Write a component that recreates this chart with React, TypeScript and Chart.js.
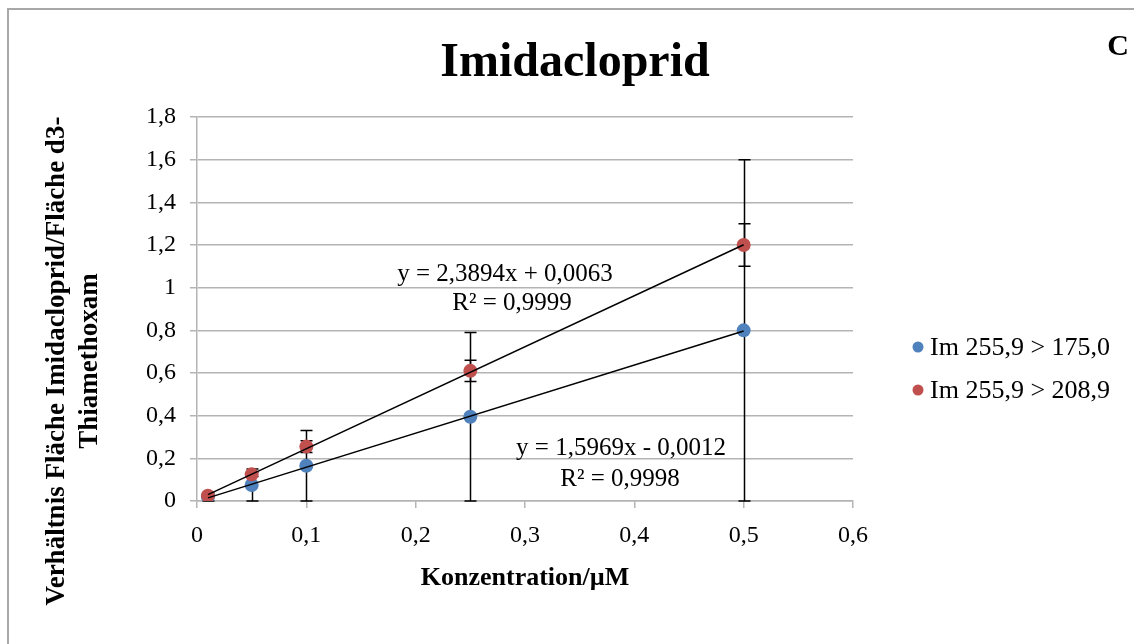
import React, { useEffect, useRef } from 'react';
import { Chart, registerables } from 'chart.js';

Chart.register(...registerables);

const xValues = [0.01, 0.05, 0.1, 0.25, 0.5];
const seriesNames = ['Im 255,9 > 175,0', 'Im 255,9 > 208,9'];
const seriesColors = ['#4F81BD', '#C0504D'];
const blueValues = [0.02, 0.075, 0.165, 0.395, 0.8];
const redValues = [0.025, 0.125, 0.255, 0.61, 1.2];
const blueErrors = [0.02, 0.075, 0.165, 0.395, 0.8];
const redErrors = [0.005, 0.01, 0.028, 0.05, 0.1];
const trendSlopes = [1.5969, 2.3894];
const trendIntercepts = [-0.0012, 0.0063];
const equationTexts = ['y = 1,5969x - 0,0012', 'y = 2,3894x + 0,0063'];
const r2Texts = ['R² = 0,9998', 'R² = 0,9999'];
const chartTitle = 'Imidacloprid';
const cornerLabel = 'C';
const xAxisTitle = 'Konzentration/µM';
const yAxisTitleLines = ['Verhältnis Fläche Imidacloprid/Fläche d3-', 'Thiamethoxam'];

const SERIF = '"Liberation Serif", "Times New Roman", serif';
const GRID = '#B4B4B4';

const fmt = (v: number) => String(Number(v.toFixed(2))).replace('.', ',');

const seriesValues = [blueValues, redValues];
const seriesErrors = [blueErrors, redErrors];

const customPlugin = {
  id: 'customDraw',
  beforeDraw(chart: any) {
    const ctx = chart.ctx;
    ctx.save();
    ctx.fillStyle = '#ffffff';
    ctx.fillRect(0, 0, chart.width, chart.height);
    ctx.restore();
  },
  beforeDatasetsDraw(chart: any) {
    const ctx = chart.ctx;
    const xs = chart.scales.x;
    const ys = chart.scales.y;
    ctx.save();
    ctx.strokeStyle = '#000000';
    ctx.lineWidth = 1.5;
    for (let s = 0; s < seriesValues.length; s++) {
      const vals = seriesValues[s];
      const errs = seriesErrors[s];
      for (let j = 0; j < xValues.length; j++) {
        const px = Math.round(xs.getPixelForValue(xValues[j])) + 0.5;
        const top = ys.getPixelForValue(vals[j] + errs[j]);
        const bot = ys.getPixelForValue(Math.max(0, vals[j] - errs[j]));
        ctx.beginPath();
        ctx.moveTo(px, top);
        ctx.lineTo(px, bot);
        ctx.moveTo(px - 6, top);
        ctx.lineTo(px + 6, top);
        ctx.moveTo(px - 6, bot);
        ctx.lineTo(px + 6, bot);
        ctx.stroke();
      }
    }
    ctx.restore();
  },
  afterDraw(chart: any) {
    const ctx = chart.ctx;
    ctx.save();
    // frame
    ctx.strokeStyle = '#A8A8A8';
    ctx.lineWidth = 2;
    ctx.strokeRect(8, 9, 1200, 700);

    ctx.fillStyle = '#000000';
    // title
    ctx.font = `bold 48px ${SERIF}`;
    ctx.textAlign = 'center';
    ctx.textBaseline = 'alphabetic';
    ctx.fillText(chartTitle, 575, 76);
    // corner label
    ctx.font = `bold 30px ${SERIF}`;
    ctx.fillText(cornerLabel, 1118, 55);

    // x axis title
    ctx.font = `bold 26px ${SERIF}`;
    ctx.fillText(xAxisTitle, 525, 585);

    // y axis title
    ctx.save();
    ctx.translate(0, 361);
    ctx.rotate(-Math.PI / 2);
    ctx.textBaseline = 'middle';
    ctx.font = `bold 27px ${SERIF}`;
    ctx.fillText(yAxisTitleLines[0], 0, 57);
    ctx.fillText(yAxisTitleLines[1], 0, 90);
    ctx.restore();

    // equations
    ctx.font = `25px ${SERIF}`;
    ctx.textBaseline = 'alphabetic';
    ctx.fillText(equationTexts[1], 505, 281);
    ctx.fillText(r2Texts[1], 512, 310);
    ctx.fillText(equationTexts[0], 621, 455);
    ctx.fillText(r2Texts[0], 620, 486);

    // legend
    ctx.font = `26px ${SERIF}`;
    ctx.textAlign = 'left';
    ctx.textBaseline = 'middle';
    const legendY = [347, 390];
    for (let i = 0; i < seriesNames.length; i++) {
      ctx.fillStyle = seriesColors[i];
      ctx.beginPath();
      ctx.arc(918, legendY[i], 5.5, 0, Math.PI * 2);
      ctx.fill();
      ctx.fillStyle = '#000000';
      ctx.fillText(seriesNames[i], 930, legendY[i] + 1);
    }
    ctx.restore();
  },
};

export default function App() {
  const canvasRef = useRef<HTMLCanvasElement | null>(null);

  useEffect(() => {
    const canvas = canvasRef.current;
    if (!canvas) return;
    const xMin = Math.min(...xValues);
    const xMax = Math.max(...xValues);
    const trendData = (i: number) => [
      { x: xMin, y: trendSlopes[i] * xMin + trendIntercepts[i] },
      { x: xMax, y: trendSlopes[i] * xMax + trendIntercepts[i] },
    ];
    const chart = new Chart(canvas, {
      type: 'scatter',
      data: {
        datasets: [
          {
            label: 'trend1',
            type: 'line',
            data: trendData(0),
            borderColor: '#000000',
            borderWidth: 1.5,
            pointRadius: 0,
            showLine: true,
            order: 0,
          } as any,
          {
            label: 'trend2',
            type: 'line',
            data: trendData(1),
            borderColor: '#000000',
            borderWidth: 1.5,
            pointRadius: 0,
            showLine: true,
            order: 0,
          } as any,
          {
            label: seriesNames[0],
            data: xValues.map((x, j) => ({ x, y: blueValues[j] })),
            backgroundColor: seriesColors[0],
            borderColor: seriesColors[0],
            borderWidth: 0,
            pointRadius: 7,
            order: 2,
          },
          {
            label: seriesNames[1],
            data: xValues.map((x, j) => ({ x, y: redValues[j] })),
            backgroundColor: seriesColors[1],
            borderColor: seriesColors[1],
            borderWidth: 0,
            pointRadius: 7,
            order: 1,
          },
        ],
      },
      options: {
        animation: false,
        responsive: false,
        devicePixelRatio: 1,
        layout: { padding: { left: 0, right: 281, top: 117, bottom: 0 } },
        plugins: {
          legend: { display: false },
          title: { display: false },
          tooltip: { enabled: false },
        },
        scales: {
          x: {
            type: 'linear',
            min: 0,
            max: 0.6,
            afterFit: (scale: any) => {
              scale.height = 143;
            },
            ticks: {
              stepSize: 0.1,
              color: '#000000',
              font: { family: SERIF, size: 24 },
              padding: 13,
              maxRotation: 0,
              callback: (v: any) => fmt(Number(v)),
            },
            grid: {
              drawOnChartArea: false,
              drawTicks: true,
              tickLength: 7,
              color: GRID,
              lineWidth: 1.5,
            },
            border: { color: GRID, width: 1.5 },
          },
          y: {
            type: 'linear',
            min: 0,
            max: 1.8,
            afterFit: (scale: any) => {
              scale.width = 197;
            },
            ticks: {
              stepSize: 0.2,
              color: '#000000',
              font: { family: SERIF, size: 24 },
              padding: 14,
              callback: (v: any) => fmt(Number(v)),
            },
            grid: {
              drawTicks: true,
              tickLength: 7,
              color: GRID,
              lineWidth: 1.5,
            },
            border: { color: GRID, width: 1.5 },
          },
        },
      },
      plugins: [customPlugin],
    });
    return () => chart.destroy();
  }, []);

  return (
    <div style={{ position: 'absolute', left: 0, top: 0, width: 1134, height: 644, background: '#fff' }}>
      <canvas ref={canvasRef} width={1134} height={644} style={{ width: 1134, height: 644, display: 'block' }} />
    </div>
  );
}
